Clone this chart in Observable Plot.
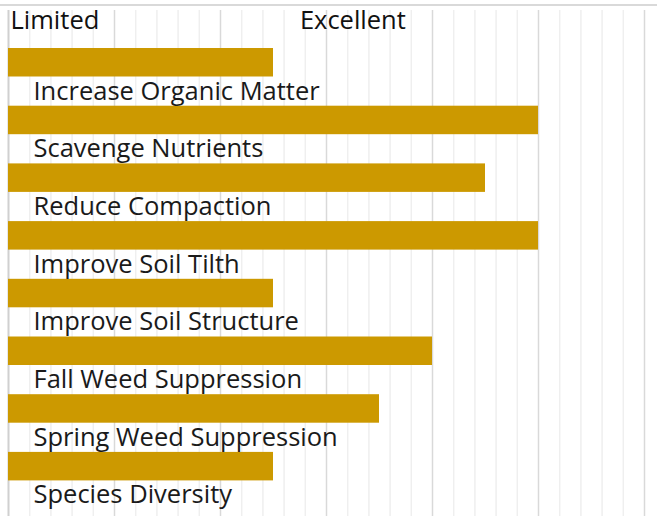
<!DOCTYPE html>
<html><head><meta charset="utf-8">
<script src="https://cdn.jsdelivr.net/npm/d3@7"></script>
<script src="https://cdn.jsdelivr.net/npm/@observablehq/plot@0.6"></script>
<style>
body{margin:0;background:#fff;}
#chart{width:657px;height:516px;background:linear-gradient(#fff 0 4px,#d9d9d9 4px 6px,#fff 6px 100%);}
#chart svg{display:block;}
</style>
</head><body><div id="chart"></div>
<script>
const practices = ["Increase Organic Matter","Scavenge Nutrients","Reduce Compaction","Improve Soil Tilth","Improve Soil Structure","Fall Weed Suppression","Spring Weed Suppression","Species Diversity"];
const ratings = [2.5, 5, 4.5, 5, 2.5, 4, 3.5, 2.5];
const scaleLabels = ["Limited", "Excellent"];
const scaleLabelAt = [0, 2.73];
const majorTicks = [0, 1, 2, 3, 4, 5, 6];
const minorTicks = d3.range(0, 6.0001, 0.2).filter(v => Math.abs(v - Math.round(v)) > 1e-6);

const rows = practices.map((p, i) => ({practice: p, rating: ratings[i]}));
const tops = scaleLabels.map((t, i) => ({label: t, at: scaleLabelAt[i]}));
const font = "'Open Sans', 'Noto Sans', sans-serif";

const chart = Plot.plot({
  width: 657, height: 516,
  marginTop: 10, marginBottom: 0, marginLeft: 8, marginRight: 13,
  style: {fontFamily: font, background: "transparent"},
  x: {domain: [0, 6], axis: null},
  y: {domain: practices, range: [48, 509.6], padding: 0, round: false, axis: null},
  marks: [
    Plot.ruleX(minorTicks, {stroke: "#efefef", strokeWidth: 1.5}),
    Plot.ruleX(majorTicks.slice(1), {stroke: "#d9d9d9", strokeWidth: 1.5}),
    Plot.ruleX([0], {stroke: "#d0d0d0", strokeWidth: 2}),
    Plot.barX(rows, {y: "practice", x1: 0, x2: "rating", fill: "#cc9900", insetBottom: 29.2}),
    Plot.text(rows, {y: "practice", text: "practice", frameAnchor: "left", textAnchor: "start", dx: 25, dy: 14, fontSize: 25.5, fill: "#1a1a1a"}),
    Plot.text(tops, {x: "at", text: "label", frameAnchor: "top", textAnchor: "start", lineAnchor: "top", dx: 2, dy: 0, fontSize: 25.5, fill: "#111"})
  ]
});
document.getElementById("chart").appendChild(chart);
</script>
</body></html>
